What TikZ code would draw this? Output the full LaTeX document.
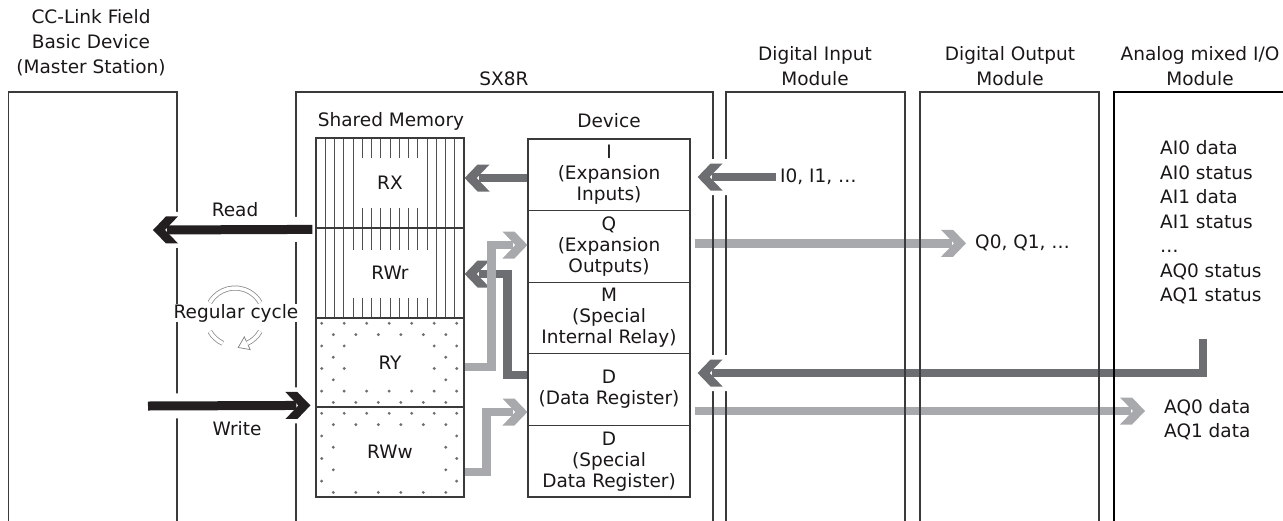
\documentclass[tikz,border=0pt]{standalone}
\usepackage{fontspec}
\setmainfont{DejaVu Sans}
\usetikzlibrary{arrows.meta,calc}
\definecolor{txt}{HTML}{1A1718}
\definecolor{frm}{HTML}{3A3A3A}
\definecolor{dkg}{HTML}{6D6E71}
\definecolor{ltg}{HTML}{A7A9AC}
\definecolor{blk}{HTML}{231F20}
\definecolor{hatchc}{HTML}{505050}
\definecolor{iconc}{HTML}{858585}
% chevron arrow head
\pgfdeclarearrow{
  name = Chev,
  setup code = {
    \pgfarrowssettipend{0pt}
    \pgfarrowssetlineend{-14pt}
    \pgfarrowssetbackend{-25pt}
    \pgfarrowshullpoint{0pt}{0pt}
    \pgfarrowshullpoint{-25pt}{13.5pt}
    \pgfarrowshullpoint{-25pt}{-13.5pt}
  },
  drawing code = {
    \pgfpathmoveto{\pgfqpoint{0pt}{0pt}}
    \pgfpathlineto{\pgfqpoint{-13pt}{13.5pt}}
    \pgfpathlineto{\pgfqpoint{-25pt}{13.5pt}}
    \pgfpathlineto{\pgfqpoint{-12pt}{0pt}}
    \pgfpathlineto{\pgfqpoint{-25pt}{-13.5pt}}
    \pgfpathlineto{\pgfqpoint{-13pt}{-13.5pt}}
    \pgfpathclose
    \pgfusepathqfill
  }
}
% white halo shape around the chevron
\pgfdeclarearrow{
  name = ChevH,
  setup code = {
    \pgfarrowssettipend{0pt}
    \pgfarrowssetlineend{-20pt}
    \pgfarrowssetbackend{-30pt}
    \pgfarrowshullpoint{4pt}{0pt}
    \pgfarrowshullpoint{-30pt}{18pt}
    \pgfarrowshullpoint{-30pt}{-18pt}
  },
  drawing code = {
    \pgfpathmoveto{\pgfqpoint{4pt}{0pt}}
    \pgfpathlineto{\pgfqpoint{-13pt}{18pt}}
    \pgfpathlineto{\pgfqpoint{-30pt}{18pt}}
    \pgfpathlineto{\pgfqpoint{-30pt}{-18pt}}
    \pgfpathlineto{\pgfqpoint{-13pt}{-18pt}}
    \pgfpathclose
    \pgfusepathqfill
  }
}
\begin{document}
\begin{tikzpicture}[x=1pt,y=-1pt,
  every node/.style={text=txt, font=\fontsize{18.5}{21}\selectfont},
  lbl/.style={align=center, inner sep=0pt, font=\fontsize{18.5}{25}\selectfont},
  plain/.style={inner sep=0pt},
  frame/.style={draw=frm, line width=1.2pt},
  memblk/.style={draw=frm, line width=1.2pt, minimum width=148pt, minimum height=90pt, inner sep=0pt},
  devblk/.style={draw=frm, line width=1.2pt, minimum width=162pt, minimum height=71.6pt, inner sep=0pt, align=center},
  hatch/.style={draw=hatchc, line width=0.7pt},
  dotc/.style={fill=dkg},
  head/.style={-{Chev}},
  dkarrow/.style={draw=dkg, line width=8.5pt, head},
  ltarrow/.style={draw=ltg, line width=8.5pt, head},
  blkarrow/.style={draw=blk, line width=9pt, head},
  halo/.style={draw=white, line width=14pt, -{ChevH}},
  blkhalo/.style={draw=white, line width=25pt, -{ChevH}},
  icon/.style={draw=iconc, line width=0.75pt, double=white, double distance=3.5pt},
  iconhead/.style={draw=iconc, line width=0.75pt, line join=miter}
]
\useasboundingbox (0,0) rectangle (1283,520);
\clip (0,0) rectangle (1283,520);

% ---------- shared memory fill patterns ----------
\foreach \k in {1,...,15}{\draw[hatch] ({316+9.25*\k},138) -- ({316+9.25*\k},318);}
\fill[white] (357,158) rectangle (424,208);
\fill[white] (348,250) rectangle (432,298);
\foreach \yo in {323.3,413.3}{
  \foreach \r in {0,2,4,6}{\foreach \c in {0,...,6}{\fill[dotc] ({321.7+22.5*\c},{\yo+11.3*\r}) circle[radius=1.6];}}
  \foreach \r in {1,3,5,7}{\foreach \c in {0,...,5}{\fill[dotc] ({333.3+22.5*\c},{\yo+11.3*\r}) circle[radius=1.6];}}
}
\fill[white] (350,341) rectangle (429,386);
\fill[white] (337,431) rectangle (442,486);

% ---------- shared memory blocks ----------
\node[memblk] (RX) at (390,183) {RX};
\node[memblk] (RWr) at (390,273) {RWr};
\node[memblk, minimum height=89pt] (RY) at (390,362.5) {RY};
\node[memblk] (RWw) at (390,452) {RWw};

% ---------- device blocks ----------
\node[devblk] (devI) at (609,174.8) {I\\(Expansion\\Inputs)};
\node[devblk] (devQ) at (609,246.4) {Q\\(Expansion\\Outputs)};
\node[devblk] (devM) at (609,318.0) {M\\(Special\\Internal Relay)};
\node[devblk] (devD) at (609,389.6) {D\\(Data Register)};
\node[devblk] (devS) at (609,461.2) {D\\(Special\\Data Register)};

% ---------- texts ----------
\node[plain] (hSM) at (391,121) {Shared Memory};
\node[plain] (hDev) at (609,121) {Device};
\node[lbl] (lmaster) at (91,43) {CC-Link Field\\Basic Device\\(Master Station)};
\node[lbl] (lsx) at (504,79) {SX8R};
\node[lbl] (ldi) at (815,66.5) {Digital Input\\Module};
\node[lbl] (ldo) at (1010,66.5) {Digital Output\\Module};
\node[lbl] (lan) at (1200,66.5) {Analog mixed I/O\\Module};
\node[plain, anchor=west] (i0) at (780,177) {I0, I1, …};
\node[plain, anchor=west] (q0) at (975,243) {Q0, Q1, …};
\node[lbl, anchor=west, align=left, font=\fontsize{18.5}{24.5}\selectfont] (ai) at (1160,222.5)
  {AI0 data\\AI0 status\\AI1 data\\AI1 status\\…\\AQ0 status\\AQ1 status};
\node[lbl, anchor=west, align=left, font=\fontsize{18.5}{24}\selectfont] (aq) at (1164,420) {AQ0 data\\AQ1 data};

% ---------- gray arrows (under frames) ----------
\draw[dkarrow] ($(devI.west)+(0,3.2)$) coordinate (a1) -- (a1 -| RX.east);
\draw[dkarrow] ($(i0.west)+(-4,0)$) coordinate (a2s) -- ($(a2s -| devI.east)+(7,0)$) coordinate (a2t);
\coordinate (an1) at (1203,339);
\draw[dkarrow] (an1) |- ($(devD.east)+(7,-16.6)$) coordinate (a3t);
\draw[dkarrow] ($(devD.west)+(0,-14.8)$) -| ($(RWr.east)+(43,1)$) -- ($(RWr.east)+(0,1)$);
\draw[ltarrow] ($(RY.east)+(0,4.5)$) -| ($(devQ.west)+(-36,-1.4)$) -- ($(devQ.west)+(0,-1.4)$);
\draw[ltarrow] ($(RWw.east)+(0,20)$) -| ($(devD.west)+(-41,22.4)$) -- ($(devD.west)+(0,22.4)$);
\draw[ltarrow] ($(devQ.east)+(4,-3.1)$) coordinate (a7) -- ($(a7 -| q0.west)+(-9,0)$);
\draw[ltarrow] ($(devD.east)+(4,21.4)$) coordinate (a8) -- ($(a8 -| aq.west)+(-19,0)$);

% ---------- frames ----------
\draw[frame] (8.5,521) -- (8.5,92) -- (177,92) -- (177,521);
\draw[frame] (296,521) -- (296,92) -- (713,92) -- (713,521);
\draw[frame] (726,521) -- (726,92) -- (905,92) -- (905,521);
\draw[frame] (920,521) -- (920,92) -- (1099,92) -- (1099,521);
\draw[frame, draw=black, line width=1.6pt] (1114,521) -- (1114,92) -- (1290,92);

% ---------- arrow heads over frames ----------
\draw[halo] ($(a2t)+(45,0)$) -- (a2t);
\draw[dkarrow] ($(a2t)+(45,0)$) -- (a2t);
\draw[halo] ($(a3t)+(45,0)$) -- (a3t);
\draw[dkarrow] ($(a3t)+(45,0)$) -- (a3t);

% ---------- read / write ----------
\coordinate (rdT) at (153,230);
\coordinate (wrS) at (148,406);
\draw[blkhalo] ($(RWr.north west)+(-3,2)$) -- (rdT);
\draw[blkarrow] ($(RWr.north west)+(-3,2)$) -- (rdT);
\draw[blkhalo] (wrS) -- ($(RWw.north west)+(-5,-1)$);
\draw[blkarrow] (wrS) -- ($(RWw.north west)+(-5,-1)$);
\node[plain] (tRead) at (235,210) {Read};
\node[plain] (tWrite) at (237,429) {Write};

% ---------- regular cycle icon ----------
\coordinate (cyc) at (235,317);
\draw[icon] ($(cyc)+(210:29)$) arc[start angle=210, end angle=330, radius=29];
\draw[icon] ($(cyc)+(150:29)$) arc[start angle=150, end angle=115, radius=29];
\draw[icon] ($(cyc)+(30:29)$) arc[start angle=30, end angle=65, radius=29];
\draw[iconhead] ($(cyc)+(13.12,28.14)$) -- ($(cyc)+(15.2,32.6)$) -- ($(cyc)+(3.2,30.5)$) -- ($(cyc)+(9.3,19.9)$) -- ($(cyc)+(11.39,24.42)$);
\node[plain, fill=white, inner xsep=1pt, inner ysep=0pt] (tCycle) at (236,313) {Regular cycle};
\end{tikzpicture}
\end{document}
